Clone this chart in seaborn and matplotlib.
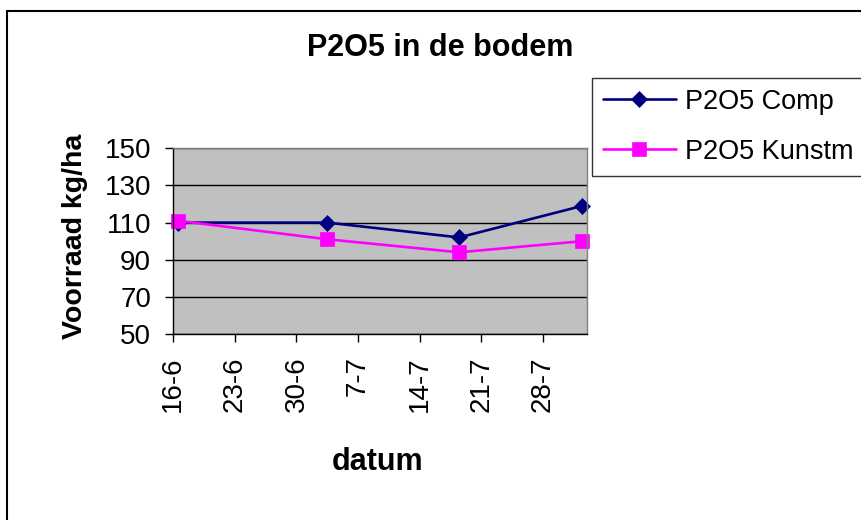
import numpy as np
import pandas as pd
import seaborn as sns
import matplotlib.pyplot as plt
import matplotlib.dates as mdates
from matplotlib.patches import Rectangle

# data
dates = ["2006-06-16", "2006-07-03", "2006-07-18", "2006-08-01"]
comp = [110, 110, 102, 119]
kunstm = [111, 101, 94, 100]
series_names = ["P2O5 Comp", "P2O5 Kunstm"]
y_ticks = [50, 70, 90, 110, 130, 150]

df = pd.DataFrame({"datum": pd.to_datetime(dates) + pd.Timedelta(hours=12),
                   series_names[0]: comp, series_names[1]: kunstm})

sns.set_style("white")
plt.rcParams["font.family"] = ["Liberation Sans", "DejaVu Sans"]
plt.rcParams["text.color"] = "black"
plt.rcParams["xtick.color"] = "black"
plt.rcParams["ytick.color"] = "black"

fig = plt.figure(figsize=(8.61, 5.2), dpi=100)
ax = fig.add_axes([173.3 / 861, 1 - 334 / 520, (586.7 - 173.3) / 861, (334 - 148.3) / 520])
ax.set_facecolor("#C0C0C0")

sns.lineplot(data=df, x="datum", y=series_names[0], ax=ax, color="#000080",
             marker="D", markersize=8.5, markeredgewidth=0.5, markeredgecolor="#000080",
             linewidth=1.9, label=series_names[0], legend=False, clip_on=False)
sns.lineplot(data=df, x="datum", y=series_names[1], ax=ax, color="#FF00FF",
             marker="s", markersize=10, markeredgewidth=0.5, markeredgecolor="#FF00FF",
             linewidth=1.9, label=series_names[1], legend=False, clip_on=False)

ax.set_ylim(50, 150)
ax.set_yticks(y_ticks)
ax.set_xlim(pd.Timestamp("2006-06-16"), pd.Timestamp("2006-08-02"))
ax.set_xticks(pd.date_range("2006-06-16", "2006-08-01", freq="7D"))
ax.xaxis.set_major_formatter(mdates.DateFormatter("%-d-%-m"))
ax.yaxis.grid(True, color="black", linewidth=1)
ax.set_axisbelow(True)
ax.set_xlabel("")
ax.set_ylabel("")

for side in ["top", "right"]:
    ax.spines[side].set_color("#808080")
    ax.spines[side].set_linewidth(1)
for side in ["left", "bottom"]:
    ax.spines[side].set_color("black")
    ax.spines[side].set_linewidth(1)

ax.tick_params(axis="both", direction="out", length=6, width=1, color="black",
               labelsize=20, labelcolor="black", left=True, bottom=True)
ax.tick_params(axis="x", labelrotation=90, pad=10)
ax.tick_params(axis="y", pad=10)

fig.text(440 / 861, 1 - 48 / 520, "P2O5 in de bodem", ha="center", va="center",
         fontsize=22, fontweight="bold")
fig.text(75 / 861, 1 - 236 / 520, "Voorraad kg/ha", ha="center", va="center",
         rotation=90, fontsize=20.5, fontweight="bold")
fig.text(378 / 861, 1 - 462 / 520, "datum", ha="center", va="center",
         fontsize=22, fontweight="bold")

handles, labels = ax.get_legend_handles_labels()
leg = fig.legend(handles, labels, loc="upper left",
                 bbox_to_anchor=(591.7 / 861, 1 - 77.7 / 520), borderaxespad=0,
                 fontsize=19.5, frameon=True, fancybox=False, handlelength=2.7,
                 labelspacing=0.9, handletextpad=0.35, borderpad=0.4)
leg.get_frame().set_edgecolor("black")
leg.get_frame().set_linewidth(1)

fig.patches.append(Rectangle((7 / 861, -0.1), 2, 1.1 - 11 / 520, fill=False,
                             edgecolor="black", linewidth=1.5, transform=fig.transFigure))

fig.savefig("out.png", dpi=100)
